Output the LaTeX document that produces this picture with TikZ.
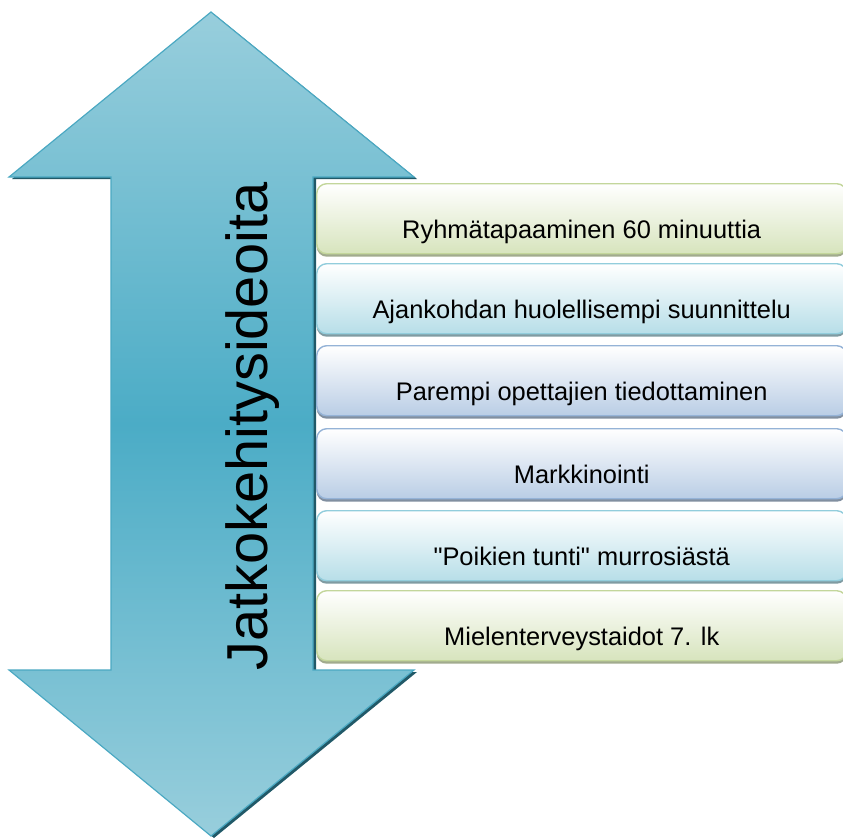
\documentclass[tikz,border=0pt]{standalone}
\usepackage{fontspec}
\setmainfont{Liberation Sans}
\newfontfamily\ideafont{Liberation Sans}
\usetikzlibrary{shadows}

\definecolor{arrowlight}{HTML}{98CEDC}
\definecolor{arrowdark}{HTML}{4BACC6}
\definecolor{arrowedge}{HTML}{4AA8C2}
\definecolor{arrowshade}{HTML}{215968}
\definecolor{greenfill}{HTML}{D7E4BD}
\definecolor{greenedge}{HTML}{C3D69B}
\definecolor{cyanfill}{HTML}{B7DEE8}
\definecolor{cyanedge}{HTML}{92CDDC}
\definecolor{bluefill}{HTML}{B9CDE5}
\definecolor{blueedge}{HTML}{95B3D7}

\begin{document}
\begin{tikzpicture}[x = 0.03cm, y = -0.03cm,
  idea/.style = {rectangle, rounded corners = 0.3cm, anchor = north west, inner xsep = 0, inner ysep = 0,
    minimum width = 15.9cm, text height = 1.65cm, text depth = 0.45cm,
    font = \ideafont\fontsize{21.7}{24}\selectfont, line width = 1.2pt, top color = white},
  greenidea/.style = {idea, draw = greenedge, bottom color = greenfill,
    general shadow = {fill = greenfill!75!black, shadow yshift = -0.09cm}},
  cyanidea/.style = {idea, draw = cyanedge, bottom color = cyanfill,
    general shadow = {fill = cyanfill!70!black, shadow yshift = -0.09cm}},
  blueidea/.style = {idea, draw = blueedge, bottom color = bluefill,
    general shadow = {fill = bluefill!70!black, shadow yshift = -0.09cm}}]
\useasboundingbox (0 ,0) rectangle (843 ,838);
\clip (0 ,0) rectangle (843 ,838);

\fill [arrowshade, shift = {(3 ,2)}] (211 ,12) -- (414 ,177) -- (313 ,177) -- (313 ,670) -- (414 ,670)
  -- (211 ,836) -- (9 ,670) -- (111 ,670) -- (111 ,177) -- (9 ,177) -- cycle;
\shadedraw [draw = arrowedge, line width = 1pt, top color = arrowlight, bottom color = arrowlight, middle color = arrowdark]
  (211 ,12) -- (414 ,177) -- (313 ,177) -- (313 ,670) -- (414 ,670)
  -- (211 ,836) -- (9 ,670) -- (111 ,670) -- (111 ,177) -- (9 ,177) -- cycle;

\node [rotate = 90, anchor = base west, inner sep = 0, font = \fontsize{49.3}{55}\selectfont] (title) at (267 ,671) {Jatkokehitysideoita};

\node [greenidea] (group) at (316 ,183) {Ryhmätapaaminen 60 minuuttia};
\node [cyanidea] (timing) at (316 ,263) {Ajankohdan huolellisempi suunnittelu};
\node [blueidea] (teachers) at (316 ,345) {Parempi opettajien tiedottaminen};
\node [blueidea] (marketing) at (316 ,428) {Markkinointi};
\node [cyanidea] (boys) at (316 ,510) {"Poikien tunti" murrosiästä};
\node [greenidea] (mental) at (316 ,590) {Mielenterveystaidot 7. lk};
\end{tikzpicture}
\end{document}
